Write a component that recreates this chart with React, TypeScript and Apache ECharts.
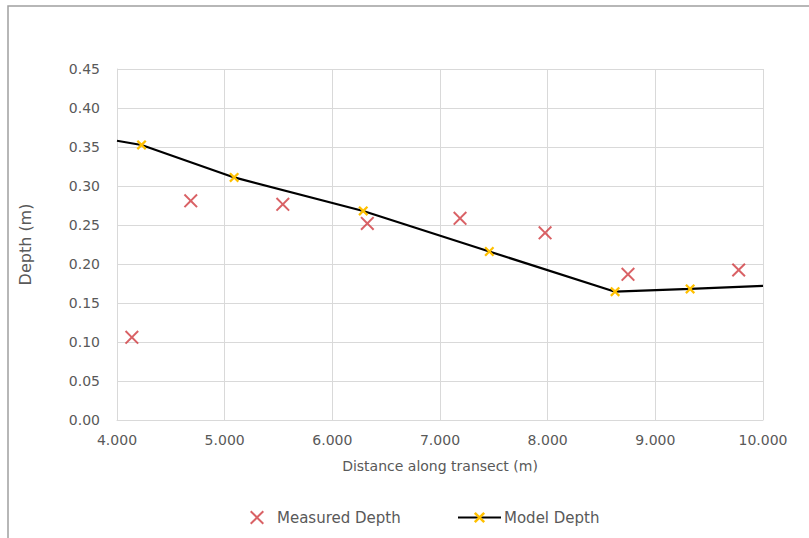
import React, { useEffect, useRef } from "react";
import * as echarts from "echarts";

const measuredX = [4.138, 4.685, 5.54, 6.325, 7.186, 7.976, 8.746, 9.774];
const measuredY = [0.106, 0.281, 0.2765, 0.252, 0.2586, 0.24, 0.1868, 0.1923];

const modelX = [4.0, 4.228, 5.088, 6.287, 7.458, 8.626, 9.323, 10.0];
const modelY = [0.358, 0.3526, 0.311, 0.268, 0.216, 0.1645, 0.168, 0.172];
const modelMarked = [false, true, true, true, true, true, true, false];

const seriesNames = ["Measured Depth", "Model Depth"];
const xTitle = "Distance along transect (m)";
const yTitle = "Depth (m)";

const X_PATH =
  "path://M0,1 L1,0 L5,4 L9,0 L10,1 L6,5 L10,9 L9,10 L5,6 L1,10 L0,9 L4,5 Z";
const X_PATH_BOLD =
  "path://M0,1.6 L1.6,0 L5,3.4 L8.4,0 L10,1.6 L6.6,5 L10,8.4 L8.4,10 L5,6.6 L1.6,10 L0,8.4 L3.4,5 Z";

const FONT = "DejaVu Sans";
const TEXT = "#595959";

export default function App() {
  const ref = useRef<HTMLDivElement>(null);
  useEffect(() => {
    if (!ref.current) return;
    const chart = echarts.init(ref.current, undefined, { renderer: "svg" });
    chart.setOption({
      animation: false,
      backgroundColor: "#ffffff",
      graphic: [
        {
          type: "rect",
          shape: { x: 8, y: 6, width: 900, height: 700 },
          style: { fill: "none", stroke: "#a0a0a0", lineWidth: 1.5 },
          silent: true,
          z: -1,
        },
      ],
      grid: { left: 117, right: 46, top: 69, bottom: 118 },
      legend: [
        {
          data: [{ name: seriesNames[0], icon: X_PATH }],
          left: 245,
          top: 505,
          itemWidth: 14,
          itemHeight: 14,
          itemGap: 0,
          textStyle: {
            fontFamily: FONT,
            fontSize: 15,
            color: TEXT,
            padding: [0, 0, 0, 8],
          },
        },
        {
          data: [seriesNames[1]],
          left: 452,
          top: 505,
          itemWidth: 43,
          itemHeight: 14,
          textStyle: { fontFamily: FONT, fontSize: 15, color: TEXT, padding: [0, 0, 0, -2] },
        },
      ],
      xAxis: {
        type: "value",
        min: 4,
        max: 10,
        interval: 1,
        name: xTitle,
        nameLocation: "middle",
        nameGap: 39,
        nameTextStyle: { fontFamily: FONT, fontSize: 14, color: TEXT },
        axisLine: { show: true, lineStyle: { color: "#d9d9d9", width: 1 } },
        axisTick: { show: false },
        axisLabel: {
          fontFamily: FONT,
          fontSize: 14,
          color: TEXT,
          margin: 13,
          formatter: (v: number) => v.toFixed(3),
        },
        splitLine: { show: true, lineStyle: { color: "#d9d9d9", width: 1 } },
      },
      yAxis: {
        type: "value",
        min: 0,
        max: 0.45,
        interval: 0.05,
        name: yTitle,
        nameLocation: "middle",
        nameGap: 84,
        nameTextStyle: { fontFamily: FONT, fontSize: 16, color: TEXT },
        axisLine: { show: true, lineStyle: { color: "#d9d9d9", width: 1 } },
        axisTick: { show: false },
        axisLabel: {
          fontFamily: FONT,
          fontSize: 14,
          color: TEXT,
          margin: 17,
          formatter: (v: number) => v.toFixed(2),
        },
        splitLine: { show: true, lineStyle: { color: "#d9d9d9", width: 1 } },
      },
      series: [
        {
          name: seriesNames[0],
          type: "scatter",
          symbol: X_PATH,
          symbolSize: 14,
          itemStyle: { color: "#d0393e" },
          data: measuredX.map((x, i) => [x, measuredY[i]]),
          z: 3,
        },
        {
          name: seriesNames[1],
          type: "line",
          symbol: X_PATH_BOLD,
          symbolSize: 10,
          showAllSymbol: true,
          lineStyle: { color: "#000000", width: 2.2 },
          itemStyle: { color: "#ffc000" },
          data: modelX.map((x, i) => ({
            value: [x, modelY[i]],
            symbol: modelMarked[i] ? X_PATH_BOLD : "none",
          })),
          z: 4,
        },
      ],
    });
    return () => chart.dispose();
  }, []);
  return (
    <div
      ref={ref}
      style={{ position: "absolute", left: 0, top: 0, width: 809, height: 538 }}
    />
  );
}
